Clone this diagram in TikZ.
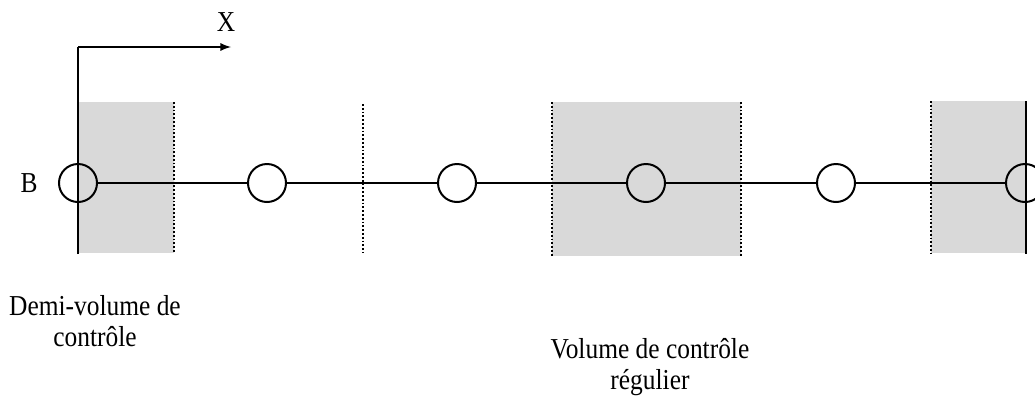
\documentclass[tikz,border=0pt]{standalone}
\usepackage{fontspec}
\setmainfont{Liberation Serif}[FakeStretch=0.88]
\begin{document}
\begin{tikzpicture}[x=1bp,y=-1bp,
  nodept/.style={circle,draw,line width=2bp,minimum size=38bp,inner sep=0pt},
  link/.style={line width=2.6bp},
  cvline/.style={dotted,line width=1.8bp},
  cvfill/.style={fill=black!15},
  lbl/.style={font=\fontsize{29}{31}\selectfont,align=center,inner sep=0pt}]
\useasboundingbox (0,0) rectangle (1035,405);
% shaded control volumes
\fill[cvfill] (78,102) rectangle (174,253);
\fill[cvfill] (552,102) rectangle (741,256);
\fill[cvfill] (931,101) rectangle (1026,253);
% dotted control-volume faces
\foreach \xx/\ya/\yb in {174/102/253, 363/104/253, 552/102/256, 741/102/256, 931/101/253}
  \draw[cvline] (\xx,\ya) -- (\xx,\yb);
% boundaries and axis
\coordinate (o) at (78,47);
\coordinate (xe) at (231,47);
\coordinate (lb) at (78,254);
\coordinate (rt) at (1026,101);
\coordinate (rb) at (1026,254);
\draw[link] (lb) -- (o);
\draw[link,-latex] (o) -- (xe);
\node[lbl,anchor=center] (xl) at (226,22) {X};
\draw[link] (rt) -- (rb);
% nodes
\foreach \i/\xx in {0/78,1/267,2/457,3/646,4/836,5/1025}
  \node[nodept] (n\i) at (\xx,183) {};
\foreach \i/\j in {0/1,1/2,2/3,3/4,4/5}
  \draw[link] (n\i) -- (n\j);
\node[lbl] (b) at (29,183) {B};
\node[lbl] (t1) at (95,321.5) {Demi-volume de\\contrôle};
\node[lbl] (t2) at (650,367) {Volume de contrôle\\régulier};
\end{tikzpicture}
\end{document}
